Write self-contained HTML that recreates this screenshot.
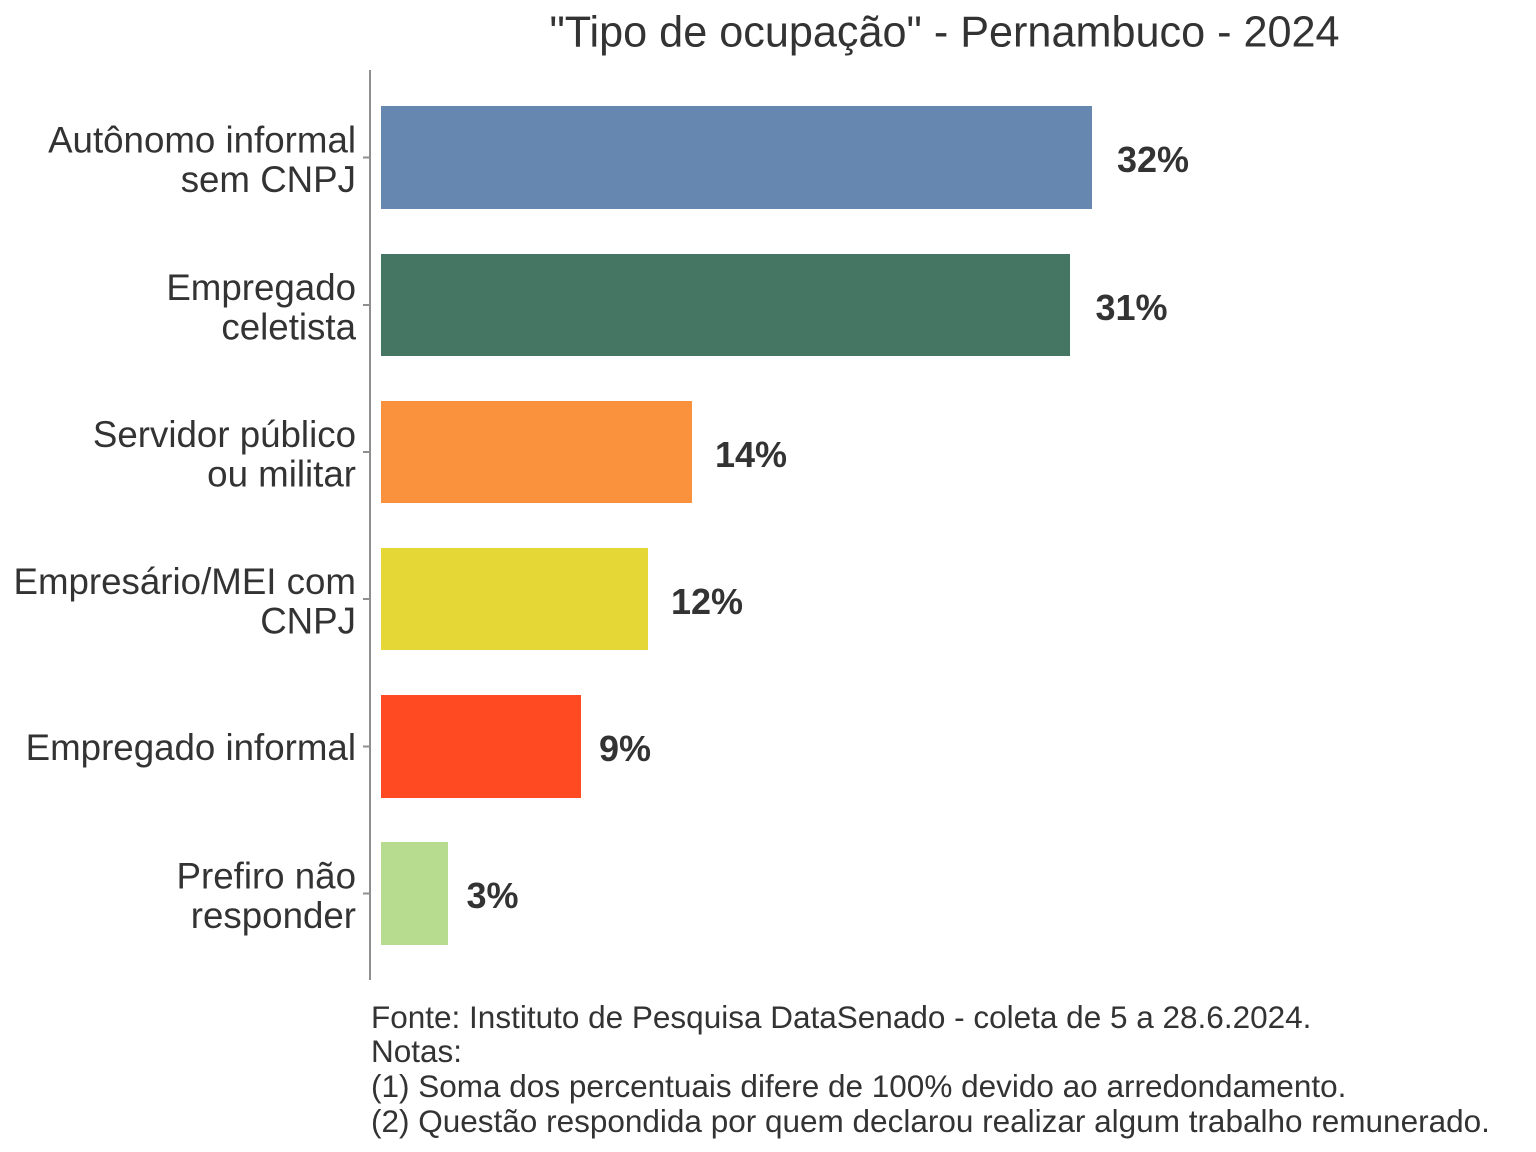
<!DOCTYPE html>
<html>
<head>
<meta charset="utf-8">
<style>
  html, body { margin: 0; padding: 0; background: #ffffff; }
  svg { display: block; }
  text { font-family: "Liberation Sans", Arial, sans-serif; fill: #333333; }
  .cat { font-size: 36.7px; text-anchor: end; }
  .val { font-size: 36px; font-weight: bold; }
  .title { font-size: 43.2px; text-anchor: middle; }
  .note { font-size: 31.5px; }
</style>
</head>
<body>
<svg width="1536" height="1152" viewBox="0 0 1536 1152" xmlns="http://www.w3.org/2000/svg">
  <rect x="0" y="0" width="1536" height="1152" fill="#ffffff"/>

  <!-- Title -->
  <text class="title" x="944.5" y="46.5">"Tipo de ocupação" - Pernambuco - 2024</text>

  <!-- Axis line -->
  <line x1="370" y1="70" x2="370" y2="980" stroke="#8f8f8f" stroke-width="2"/>
  <!-- Ticks -->
  <g stroke="#8f8f8f" stroke-width="2">
    <line x1="363" y1="157.5" x2="370" y2="157.5"/>
    <line x1="363" y1="305" x2="370" y2="305"/>
    <line x1="363" y1="452" x2="370" y2="452"/>
    <line x1="363" y1="599" x2="370" y2="599"/>
    <line x1="363" y1="746.5" x2="370" y2="746.5"/>
    <line x1="363" y1="893.5" x2="370" y2="893.5"/>
  </g>

  <!-- Bars -->
  <rect x="381" y="106" width="711" height="103" fill="#6688b0"/>
  <rect x="381" y="254" width="689" height="102" fill="#457563"/>
  <rect x="381" y="401" width="311" height="102" fill="#fa913d"/>
  <rect x="381" y="548" width="267" height="102" fill="#e5d836"/>
  <rect x="381" y="695" width="200" height="103" fill="#ff4a22"/>
  <rect x="381" y="842" width="67" height="103" fill="#b8dc8f"/>

  <!-- Value labels -->
  <text class="val" x="1117" y="172">32%</text>
  <text class="val" x="1095.5" y="320">31%</text>
  <text class="val" x="715" y="467">14%</text>
  <text class="val" x="671" y="614">12%</text>
  <text class="val" x="599" y="761">9%</text>
  <text class="val" x="466.5" y="908">3%</text>

  <!-- Category labels -->
  <text class="cat" x="356" y="152.5">Autônomo informal</text>
  <text class="cat" x="356" y="192">sem CNPJ</text>

  <text class="cat" x="356" y="300">Empregado</text>
  <text class="cat" x="356" y="339.5">celetista</text>

  <text class="cat" x="356" y="447">Servidor público</text>
  <text class="cat" x="356" y="486.5">ou militar</text>

  <text class="cat" x="356" y="594">Empresário/MEI com</text>
  <text class="cat" x="356" y="633.5">CNPJ</text>

  <text class="cat" x="356" y="760">Empregado informal</text>

  <text class="cat" x="356" y="888.5">Prefiro não</text>
  <text class="cat" x="356" y="928">responder</text>

  <!-- Footnote -->
  <text class="note" x="371" y="1028">Fonte: Instituto de Pesquisa DataSenado - coleta de 5 a 28.6.2024.</text>
  <text class="note" x="371" y="1062">Notas:</text>
  <text class="note" x="371" y="1097">(1) Soma dos percentuais difere de 100% devido ao arredondamento.</text>
  <text class="note" x="371" y="1132">(2) Questão respondida por quem declarou realizar algum trabalho remunerado.</text>
</svg>
</body>
</html>
